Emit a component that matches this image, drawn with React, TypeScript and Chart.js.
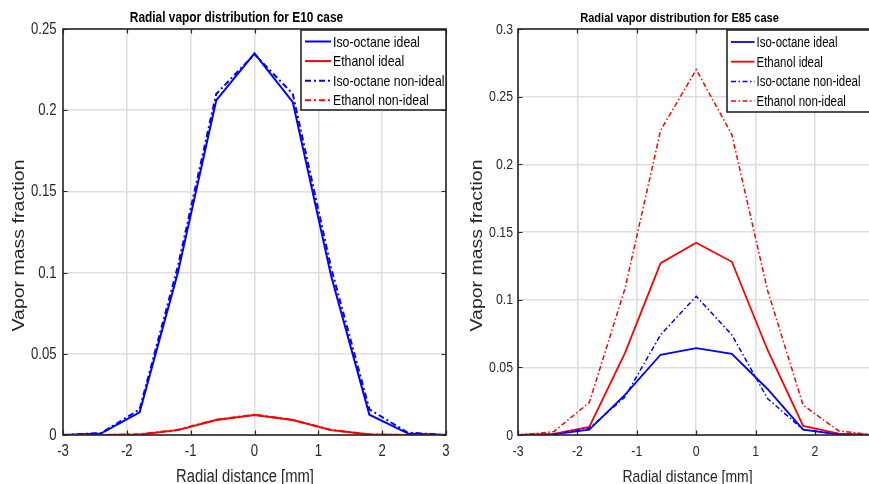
import React, { useEffect, useRef } from "react";
import { Chart, registerables } from "chart.js";

Chart.register(...registerables);

// Radial positions (mm) where the vapor mass fraction was sampled
const radialDistance = [-3, -2.4, -1.8, -1.2, -0.6, 0, 0.6, 1.2, 1.8, 2.4, 3];
const xTickValues = [-3, -2, -1, 0, 1, 2, 3];

const seriesLabels = ["Iso-octane ideal", "Ethanol ideal", "Iso-octane non-ideal", "Ethanol non-ideal"];

// E10 blend
const e10IsoIdeal = [0, 0.001, 0.014, 0.1, 0.206, 0.235, 0.205, 0.098, 0.0125, 0.001, 0];
const e10EthIdeal = [0, 0, 0.0003, 0.003, 0.0092, 0.0123, 0.0092, 0.003, 0.0003, 0, 0];
const e10IsoNonIdeal = [0, 0.0012, 0.0158, 0.104, 0.21, 0.2345, 0.21, 0.103, 0.0158, 0.0015, 0];
const e10EthNonIdeal = [0, 0, 0.0004, 0.0032, 0.0094, 0.0125, 0.0093, 0.0031, 0.0004, 0, 0];
const e10YTicks = [0, 0.05, 0.1, 0.15, 0.2, 0.25];

// E85 blend
const e85IsoIdeal = [0, 0.0005, 0.004, 0.0296, 0.0593, 0.0642, 0.06, 0.034, 0.004, 0.0005, 0];
const e85EthIdeal = [0, 0.0008, 0.006, 0.0605, 0.127, 0.142, 0.128, 0.063, 0.0067, 0.001, 0];
const e85IsoNonIdeal = [0, 0.0006, 0.005, 0.028, 0.074, 0.1025, 0.074, 0.027, 0.004, 0.0006, 0];
const e85EthNonIdeal = [0, 0.0024, 0.024, 0.108, 0.225, 0.27, 0.222, 0.107, 0.022, 0.003, 0];
const e85YTicks = [0, 0.05, 0.1, 0.15, 0.2, 0.25, 0.3];

const SANS = "'Liberation Sans', Arial, sans-serif";
const NARROW_X = 0.82; // horizontal squeeze that turns Arial metrics into Arial Narrow
const AXIS_COLOR = "#262626";
const GRID_COLOR = "#dedede";
const BLUE = "#0000ff";
const RED = "#ff0000";

type PanelSpec = {
  left: number;
  width: number;
  height: number;
  plotLeft: number;
  padRight: number;
  padTop: number;
  xAxisHeight: number;
  title: string;
  titleSize: number;
  titleShift: number;
  tickSize: number;
  yTickGap: number;
  xTickBaseline: number;
  xTitleSize: number;
  xTitleShift: number;
  yTitleGap: number;
  yTitleSize: number;
  yMax: number;
  yTicks: number[];
  legendSize: number;
  legendWidth: number;
  legendHeight: number;
  legendFirstRow: number;
  legendRowGap: number;
  legendSample: number;
  solidWidth: number;
  dashWidth: number;
  dash: number[];
  series: number[][];
};

const fmt = (v: number) => String(+Number(v).toFixed(2));

function narrowText(
  ctx: CanvasRenderingContext2D,
  text: string,
  x: number,
  y: number,
  font: string,
  align: CanvasTextAlign,
  baseline: CanvasTextBaseline
) {
  ctx.save();
  ctx.translate(x, y);
  ctx.scale(NARROW_X, 1);
  ctx.font = font;
  ctx.textAlign = align;
  ctx.textBaseline = baseline;
  ctx.fillText(text, 0, 0);
  ctx.restore();
}

function framePlugin(spec: PanelSpec) {
  return {
    id: "axesFrame",
    afterDatasetsDraw(chart: any) {
      const ctx: CanvasRenderingContext2D = chart.ctx;
      const a = chart.chartArea;
      const xs = chart.scales.x;
      const ys = chart.scales.y;
      ctx.save();

      // inward tick marks on all four sides
      const tick = 4.5;
      ctx.strokeStyle = AXIS_COLOR;
      ctx.lineWidth = 1.2;
      ctx.beginPath();
      xs.ticks.forEach((t: any) => {
        const px = Math.round(xs.getPixelForValue(t.value)) + 0.5;
        ctx.moveTo(px, a.bottom);
        ctx.lineTo(px, a.bottom - tick);
        ctx.moveTo(px, a.top);
        ctx.lineTo(px, a.top + tick);
      });
      ys.ticks.forEach((t: any) => {
        const py = Math.round(ys.getPixelForValue(t.value)) + 0.5;
        ctx.moveTo(a.left, py);
        ctx.lineTo(a.left + tick, py);
        ctx.moveTo(a.right, py);
        ctx.lineTo(a.right - tick, py);
      });
      ctx.stroke();

      // axes box
      ctx.lineWidth = 1.6;
      ctx.strokeRect(a.left, a.top, a.right - a.left, a.bottom - a.top);

      // legend in the upper-right corner
      const bx = a.right - spec.legendWidth;
      const by = a.top + 1;
      ctx.fillStyle = "#ffffff";
      ctx.fillRect(bx, by, spec.legendWidth, spec.legendHeight);
      ctx.lineWidth = 1.6;
      ctx.strokeStyle = AXIS_COLOR;
      ctx.strokeRect(bx, by, spec.legendWidth, spec.legendHeight);
      chart.data.datasets.forEach((ds: any, i: number) => {
        const ry = by + spec.legendFirstRow + i * spec.legendRowGap;
        ctx.save();
        ctx.strokeStyle = ds.borderColor;
        ctx.lineWidth = ds.borderWidth;
        ctx.setLineDash(ds.borderDash || []);
        ctx.beginPath();
        ctx.moveTo(bx + 4, ry);
        ctx.lineTo(bx + 4 + spec.legendSample, ry);
        ctx.stroke();
        ctx.restore();
        ctx.fillStyle = "#000000";
        narrowText(ctx, ds.label, bx + 6 + spec.legendSample, ry + 1, `${spec.legendSize}px ${SANS}`, "left", "middle");
      });
      ctx.restore();
    },
    afterDraw(chart: any) {
      const ctx: CanvasRenderingContext2D = chart.ctx;
      const a = chart.chartArea;
      const xs = chart.scales.x;
      const ys = chart.scales.y;
      const cx = (a.left + a.right) / 2;
      ctx.save();

      // tick labels
      ctx.fillStyle = AXIS_COLOR;
      const tickFont = `${spec.tickSize}px ${SANS}`;
      xs.ticks.forEach((t: any) => {
        narrowText(ctx, fmt(t.value), xs.getPixelForValue(t.value), spec.xTickBaseline, tickFont, "center", "alphabetic");
      });
      ys.ticks.forEach((t: any) => {
        narrowText(ctx, fmt(t.value), a.left - spec.yTickGap, ys.getPixelForValue(t.value) + 0.5, tickFont, "right", "middle");
      });

      // titles
      ctx.fillStyle = "#000000";
      narrowText(ctx, spec.title, cx + spec.titleShift, 21.7, `bold ${spec.titleSize}px ${SANS}`, "center", "alphabetic");
      ctx.fillStyle = AXIS_COLOR;
      narrowText(ctx, "Radial distance [mm]", cx + spec.xTitleShift, 481.5, `${spec.xTitleSize}px ${SANS}`, "center", "alphabetic");

      ctx.translate(a.left - spec.yTitleGap, (a.top + a.bottom) / 2 + 13.5);
      ctx.rotate(-Math.PI / 2);
      ctx.scale(1, 0.84);
      ctx.textAlign = "center";
      ctx.textBaseline = "middle";
      ctx.font = `${spec.yTitleSize}px ${SANS}`;
      ctx.fillText("Vapor mass fraction", 0, 0);
      ctx.restore();
    },
  };
}

function Panel({ spec }: { spec: PanelSpec }) {
  const ref = useRef<HTMLCanvasElement | null>(null);

  useEffect(() => {
    if (!ref.current) return;
    const colors = [BLUE, RED, BLUE, RED];
    const datasets = spec.series.map((values, i) => ({
      label: seriesLabels[i],
      data: radialDistance.map((x, k) => ({ x, y: values[k] })),
      borderColor: colors[i],
      backgroundColor: colors[i],
      borderWidth: i < 2 ? spec.solidWidth : spec.dashWidth,
      borderDash: i < 2 ? [] : spec.dash,
      pointRadius: 0,
      tension: 0,
      fill: false,
      order: 4 - i,
    }));

    const chart = new Chart(ref.current, {
      type: "line",
      data: { datasets },
      options: {
        animation: false,
        responsive: false,
        maintainAspectRatio: false,
        layout: { padding: { top: spec.padTop, right: spec.padRight, bottom: 0, left: 0 } },
        plugins: { legend: { display: false }, tooltip: { enabled: false }, title: { display: false } },
        scales: {
          x: {
            type: "linear",
            min: -3,
            max: 3,
            afterFit: (s: any) => {
              s.height = spec.xAxisHeight;
            },
            afterBuildTicks: (s: any) => {
              s.ticks = xTickValues.map((v) => ({ value: v }));
            },
            ticks: { display: false },
            grid: { color: GRID_COLOR, lineWidth: 1.5, drawTicks: false },
            border: { display: false },
          },
          y: {
            type: "linear",
            min: 0,
            max: spec.yMax,
            afterFit: (s: any) => {
              s.width = spec.plotLeft;
            },
            afterBuildTicks: (s: any) => {
              s.ticks = spec.yTicks.map((v) => ({ value: v }));
            },
            ticks: { display: false },
            grid: { color: GRID_COLOR, lineWidth: 1.5, drawTicks: false },
            border: { display: false },
          },
        },
      },
      plugins: [framePlugin(spec)],
    });
    return () => chart.destroy();
  }, [spec]);

  return (
    <canvas
      ref={ref}
      width={spec.width}
      height={spec.height}
      style={{ position: "absolute", left: spec.left, top: 0, width: spec.width, height: spec.height }}
    />
  );
}

const e10Panel: PanelSpec = {
  left: 0,
  width: 460,
  height: 484,
  plotLeft: 63,
  padRight: 14,
  padTop: 29,
  xAxisHeight: 49,
  title: "Radial vapor distribution for E10 case",
  titleSize: 14.5,
  titleShift: -18,
  tickSize: 16,
  yTickGap: 6.5,
  xTickBaseline: 456,
  xTitleSize: 18,
  xTitleShift: -9.5,
  yTitleGap: 44,
  yTitleSize: 19.5,
  yMax: 0.25,
  yTicks: e10YTicks,
  legendSize: 15,
  legendWidth: 145,
  legendHeight: 80,
  legendFirstRow: 11.5,
  legendRowGap: 19.6,
  legendSample: 26,
  solidWidth: 2,
  dashWidth: 2,
  dash: [6, 3, 2, 3],
  series: [e10IsoIdeal, e10EthIdeal, e10IsoNonIdeal, e10EthNonIdeal],
};

const e85Panel: PanelSpec = {
  left: 440,
  width: 445,
  height: 484,
  plotLeft: 78,
  padRight: 10.6,
  padTop: 29,
  xAxisHeight: 49,
  title: "Radial vapor distribution for E85 case",
  titleSize: 13.5,
  titleShift: -16.7,
  tickSize: 15,
  yTickGap: 5,
  xTickBaseline: 455.5,
  xTitleSize: 17,
  xTitleShift: -8.7,
  yTitleGap: 40.3,
  yTitleSize: 19.5,
  yMax: 0.3,
  yTicks: e85YTicks,
  legendSize: 14,
  legendWidth: 147.4,
  legendHeight: 82,
  legendFirstRow: 12,
  legendRowGap: 19.7,
  legendSample: 23.5,
  solidWidth: 1.8,
  dashWidth: 1.5,
  dash: [5, 2.5, 1.5, 2.5],
  series: [e85IsoIdeal, e85EthIdeal, e85IsoNonIdeal, e85EthNonIdeal],
};

export default function App() {
  return (
    <div
      style={{
        position: "fixed",
        left: 0,
        top: 0,
        width: 869,
        height: 484,
        overflow: "hidden",
        background: "#ffffff",
      }}
    >
      <Panel spec={e10Panel} />
      <Panel spec={e85Panel} />
    </div>
  );
}
